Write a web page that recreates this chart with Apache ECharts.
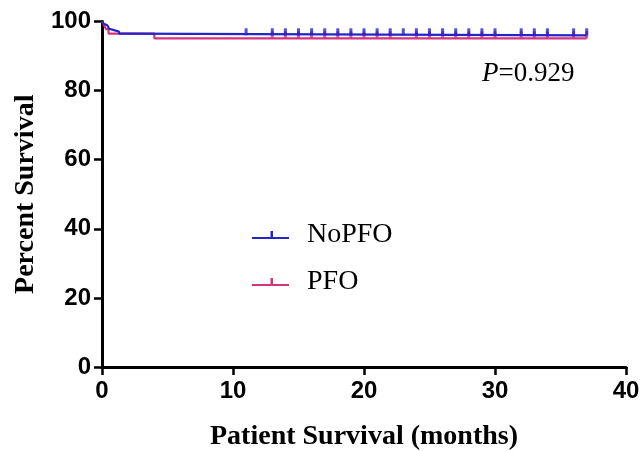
<!DOCTYPE html>
<html>
<head>
<meta charset="utf-8">
<script src="https://cdn.jsdelivr.net/npm/echarts@6/dist/echarts.min.js"></script>
<style>html,body{margin:0;padding:0;background:#fff}#c{width:640px;height:451px}</style>
</head>
<body>
<div id="c"></div>
<script>
// Kaplan-Meier step data (months, percent survival)
const noPfoTimes = [0, 0.1, 0.25, 0.4, 0.55, 0.7, 0.9, 1.3, 1.9, 37];
const noPfoSurv  = [100, 99.4, 98.9, 98.4, 97.9, 97.5, 97.1, 96.5, 96.0, 96.0];
const pfoTimes   = [0, 0.15, 0.3, 0.5, 4.0, 37];
const pfoSurv    = [100, 99.0, 97.8, 96.5, 95.1, 95.1];
// censored observations (months)
const noPfoCensor = [11, 13, 14, 15, 16, 17, 18, 19, 20, 21, 22, 23, 24, 25, 26, 27, 28, 29, 30, 32, 33, 34, 36, 37];
const pfoCensor   = [13, 14, 15, 16, 17, 18, 19, 20, 21, 22, 24, 25, 26, 27, 28, 29, 30, 32, 33, 34, 36, 37];
const xTicks = [0, 10, 20, 30, 40];
const yTicks = [0, 20, 40, 60, 80, 100];
const pText = '0.929';

const BLUE = '#2424c8';
const PINK = '#d5337f';

function stepPairs(t, s) { return t.map((v, i) => [v, s[i]]); }
function survAt(t, s, x) { let v = s[0]; for (let i = 0; i < t.length; i++) { if (t[i] <= x) v = s[i]; } return v; }
function censorPairs(c, t, s) { return c.map(x => [x, survAt(t, s, x)]); }

const chart = echarts.init(document.getElementById('c'), null, {renderer: 'canvas'});
const tickIcon = 'path://M0,6L37,6L37,8L0,8Z M18.5,0L21,0L21,6L18.5,6Z';
chart.setOption({
  animation: false,
  grid: {left: 102, right: 14, top: 21.5, bottom: 84, containLabel: false, outerBoundsMode: 'none'},
  xAxis: {
    type: 'value', min: xTicks[0], max: xTicks[xTicks.length - 1], interval: 10,
    splitLine: {show: false},
    axisLine: {lineStyle: {color: '#000', width: 3}},
    axisTick: {length: 8, lineStyle: {color: '#000', width: 2.5}},
    axisLabel: {color: '#000', fontFamily: 'Liberation Sans', fontWeight: 'bold', fontSize: 24, margin: 12},
    name: 'Patient Survival (months)', nameLocation: 'middle', nameGap: 56,
    nameTextStyle: {color: '#000', fontFamily: 'Liberation Serif', fontWeight: 'bold', fontSize: 28}
  },
  yAxis: {
    type: 'value', min: yTicks[0], max: yTicks[yTicks.length - 1], interval: 20,
    splitLine: {show: false},
    axisLine: {lineStyle: {color: '#000', width: 3}},
    axisTick: {length: 8, lineStyle: {color: '#000', width: 2.5}},
    axisLabel: {color: '#000', fontFamily: 'Liberation Sans', fontWeight: 'bold', fontSize: 24, margin: 11},
    name: 'Percent Survival', nameLocation: 'middle', nameGap: 62,
    nameTextStyle: {color: '#000', fontFamily: 'Liberation Serif', fontWeight: 'bold', fontSize: 28}
  },
  legend: {
    data: ['NoPFO', 'PFO'],
    orient: 'vertical', left: 247, top: 216, itemGap: 19,
    itemWidth: 37, itemHeight: 8, icon: tickIcon,
    formatter: n => '{a|' + n + '}',
    textStyle: {color: '#000', fontFamily: 'Liberation Serif', fontSize: 28,
      rich: {a: {fontFamily: 'Liberation Serif', fontSize: 28, color: '#000', padding: [0, 0, 0, 13]}}}
  },
  graphic: [{
    type: 'text', left: 482, top: 60,
    style: {
      text: '{i|P}{n|=' + pText + '}',
      rich: {
        i: {fontFamily: 'Liberation Serif', fontStyle: 'italic', fontSize: 27, fill: '#000'},
        n: {fontFamily: 'Liberation Serif', fontSize: 27, fill: '#000'}
      }
    }
  }],
  series: [
    {name: 'PFO', type: 'line', step: 'end', showSymbol: false, data: stepPairs(pfoTimes, pfoSurv),
      lineStyle: {color: PINK, width: 2.2}, itemStyle: {color: PINK}, z: 2},
    {name: 'PFO censored', type: 'scatter', data: censorPairs(pfoCensor, pfoTimes, pfoSurv),
      symbol: 'rect', symbolSize: [3, 7], symbolOffset: [0, -3.5], itemStyle: {color: PINK}, z: 2},
    {name: 'NoPFO', type: 'line', step: 'end', showSymbol: false, data: stepPairs(noPfoTimes, noPfoSurv),
      lineStyle: {color: BLUE, width: 2.2}, itemStyle: {color: BLUE}, z: 3},
    {name: 'NoPFO censored', type: 'scatter', data: censorPairs(noPfoCensor, noPfoTimes, noPfoSurv),
      symbol: 'rect', symbolSize: [3, 7], symbolOffset: [0, -3.5], itemStyle: {color: BLUE}, z: 3}
  ]
});
</script>
</body>
</html>
